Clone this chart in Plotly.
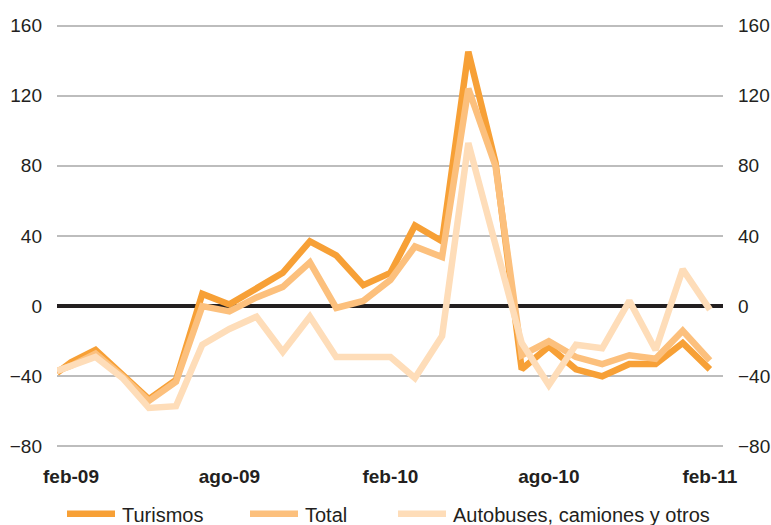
import plotly.graph_objects as go

# Fechas: primer punto a mitad de enero, luego mensual feb-09 .. feb-11
fechas = ["2009-01-16"] + [
    f"{2009 + (m // 12)}-{(m % 12) + 1:02d}-01" for m in range(1, 26)
]

turismos = [-38, -32, -25, -39, -53, -42, 7, 1, 10, 19, 37, 29, 12, 19, 46, 37,
            145, 82, -36, -23, -36, -40, -33, -33, -21, -36]
total = [-37, -34, -27, -40, -54, -43, 0, -3, 5, 11, 25, -1, 3, 15, 34, 28,
         124, 80, -28, -20, -29, -33, -28, -30, -14, -31]
autobuses = [-37, -34, -29, -41, -58, -57, -22, -13, -6, -26, -6, -29, -29, -29,
             -41, -17, 93, 36, -21, -45, -22, -24, 3, -25, 21, -2]

etiquetas_x = ["feb-09", "ago-09", "feb-10", "ago-10", "feb-11"]
fechas_etiquetas = ["2009-02-01", "2009-08-01", "2010-02-01", "2010-08-01", "2011-02-01"]
valores_y = [-80, -40, 0, 40, 80, 120, 160]

series = [
    ("Turismos", turismos, "#F7A036"),
    ("Total", total, "#FCC07D"),
    ("Autobuses, camiones y otros", autobuses, "#FEDDB9"),
]

FONT = "Liberation Sans, Arial, Helvetica, sans-serif"
TXT = "#231F20"
W, H = 771, 525
ML, MR, MT, MB = 57, 48, 21.5, 74.8
YR = [-82, 162]

fig = go.Figure()
for nombre, valores, color in series:
    fig.add_trace(go.Scatter(
        x=fechas, y=valores, name=nombre, mode="lines",
        line=dict(color=color, width=6.5), showlegend=False,
    ))

# Eje derecho (mismas marcas que el izquierdo)
fig.add_trace(go.Scatter(x=[fechas[0]], y=[None], yaxis="y2",
                         showlegend=False, hoverinfo="skip"))

fig.update_layout(
    width=W, height=H,
    margin=dict(l=ML, r=MR, t=MT, b=MB, pad=0, autoexpand=False),
    paper_bgcolor="white", plot_bgcolor="white",
    font=dict(family=FONT, size=19, color=TXT),
    xaxis=dict(
        type="date", range=["2009-01-16", "2011-02-16"], automargin=False,
        showgrid=False, zeroline=False, showline=False,
        tickvals=fechas_etiquetas, ticktext=etiquetas_x,
        tickfont=dict(family=FONT, size=19, color=TXT, weight="bold"),
        ticks="", ticklabelstandoff=13,
    ),
    yaxis=dict(
        range=YR, tickvals=valores_y, automargin=False,
        showgrid=True, gridcolor="#BDBDBD", gridwidth=2,
        zeroline=True, zerolinecolor=TXT, zerolinewidth=4,
        showline=False, ticks="", ticklabelstandoff=14,
        tickfont=dict(family=FONT, size=19, color=TXT),
    ),
    yaxis2=dict(
        range=YR, tickvals=valores_y, overlaying="y", side="right",
        automargin=False,
        showgrid=False, zeroline=False, showline=False, ticks="",
        ticklabelstandoff=14,
        tickfont=dict(family=FONT, size=19, color=TXT),
    ),
)

# Leyenda dibujada a mano bajo el gráfico
plot_w = W - ML - MR
plot_h = H - MT - MB


def px_x(px):
    return (px - ML) / plot_w


def px_y(py):
    return (H - MB - py) / plot_h


inicio_leyenda = [67, 250, 398]
largo_muestra = 48
y_leyenda = 514
for (nombre, _, color), x0 in zip(series, inicio_leyenda):
    fig.add_shape(type="line", xref="paper", yref="paper",
                  x0=px_x(x0), x1=px_x(x0 + largo_muestra),
                  y0=px_y(y_leyenda), y1=px_y(y_leyenda),
                  line=dict(color=color, width=6.5))
    fig.add_annotation(xref="paper", yref="paper",
                       x=px_x(x0 + largo_muestra + 5), y=px_y(y_leyenda + 1),
                       text=nombre, showarrow=False, xanchor="left", yanchor="middle",
                       font=dict(family=FONT, size=20, color=TXT))

fig.write_html("out.html")
